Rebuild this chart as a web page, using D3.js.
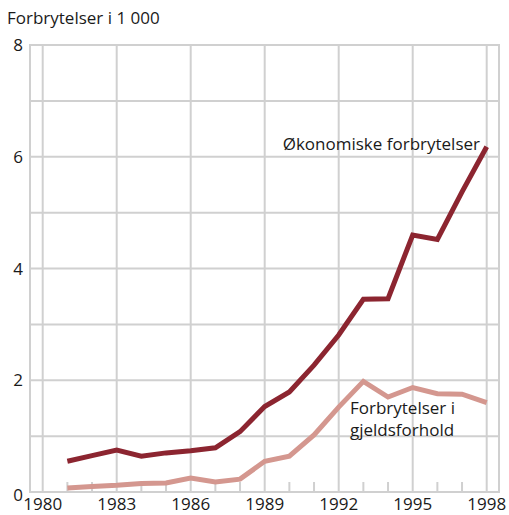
<!DOCTYPE html>
<html>
<head>
<meta charset="utf-8">
<script src="https://cdn.jsdelivr.net/npm/d3@7"></script>
<style>
  html, body { margin: 0; padding: 0; background: #fff; }
  svg { display: block; font-family: "Open Sans", "Noto Sans", sans-serif; }
</style>
</head>
<body>
<svg id="chart" width="509" height="515"></svg>
<script>
// Years covered by the series
const years = [1981, 1982, 1983, 1984, 1985, 1986, 1987, 1988, 1989,
               1990, 1991, 1992, 1993, 1994, 1995, 1996, 1997, 1998];

// Økonomiske forbrytelser (thousands)
const economic = [0.55, 0.65, 0.75, 0.64, 0.70, 0.74, 0.79, 1.08, 1.53,
                  1.79, 2.27, 2.81, 3.45, 3.46, 4.60, 4.52, 5.37, 6.18];

// Forbrytelser i gjeldsforhold (thousands)
const debt = [0.07, 0.10, 0.12, 0.15, 0.16, 0.25, 0.18, 0.23, 0.55,
              0.64, 1.02, 1.52, 1.98, 1.70, 1.87, 1.76, 1.75, 1.60];

const xTickLabels = [1980, 1983, 1986, 1989, 1992, 1995, 1998];
const yTickLabels = [0, 2, 4, 6, 8];

const svg = d3.select("#chart");
const frame = { left: 30, right: 499, top: 45, bottom: 492 };

const x = d3.scaleLinear().domain([1980, 1998]).range([42.7, 486.7]);
const y = d3.scaleLinear().domain([0, 8]).range([frame.bottom, frame.top]);

const gridColor = "#d0d0d0";
const textColor = "#1a1a1a";
const fontSize = 17;

// Horizontal gridlines at every unit
svg.append("g").selectAll("line")
  .data(d3.range(0, 9))
  .join("line")
  .attr("x1", frame.left).attr("x2", frame.right)
  .attr("y1", d => y(d)).attr("y2", d => y(d))
  .attr("stroke", gridColor).attr("stroke-width", 2);

// Vertical gridlines at labelled years
svg.append("g").selectAll("line")
  .data(xTickLabels)
  .join("line")
  .attr("x1", d => x(d)).attr("x2", d => x(d))
  .attr("y1", frame.top).attr("y2", frame.bottom)
  .attr("stroke", gridColor).attr("stroke-width", 2);

// Short minor ticks on the baseline for the other years
svg.append("g").selectAll("line")
  .data(d3.range(1980, 1999).filter(v => !xTickLabels.includes(v)))
  .join("line")
  .attr("x1", d => x(d)).attr("x2", d => x(d))
  .attr("y1", frame.bottom - 10).attr("y2", frame.bottom)
  .attr("stroke", gridColor).attr("stroke-width", 2);

// Frame
svg.append("rect")
  .attr("x", frame.left).attr("y", frame.top)
  .attr("width", frame.right - frame.left)
  .attr("height", frame.bottom - frame.top)
  .attr("fill", "none").attr("stroke", gridColor).attr("stroke-width", 2);

// Axis labels
svg.append("g").selectAll("text")
  .data(yTickLabels)
  .join("text")
  .attr("x", 23).attr("y", d => y(d) + (d === 0 ? 9 : 6))
  .attr("text-anchor", "end")
  .attr("font-size", fontSize).attr("fill", textColor)
  .text(d => d);

svg.append("g").selectAll("text")
  .data(xTickLabels)
  .join("text")
  .attr("x", d => x(d)).attr("y", 510)
  .attr("text-anchor", "middle")
  .attr("font-size", fontSize).attr("fill", textColor)
  .text(d => d);

svg.append("text")
  .attr("x", 7).attr("y", 24)
  .attr("font-size", fontSize).attr("fill", textColor)
  .text("Forbrytelser i 1 000");

// Series lines
const line = d3.line()
  .x((d, i) => x(years[i]))
  .y(d => y(d));

svg.append("path")
  .datum(debt)
  .attr("d", line)
  .attr("fill", "none")
  .attr("stroke", "#d4978f")
  .attr("stroke-width", 5)
  .attr("stroke-linejoin", "miter");

svg.append("path")
  .datum(economic)
  .attr("d", line)
  .attr("fill", "none")
  .attr("stroke", "#8c2530")
  .attr("stroke-width", 5)
  .attr("stroke-linejoin", "miter");

// Series labels
svg.append("text")
  .attr("x", 480).attr("y", 150)
  .attr("text-anchor", "end")
  .attr("font-size", fontSize).attr("fill", textColor)
  .text("Økonomiske forbrytelser");

const debtLabel = svg.append("text")
  .attr("font-size", fontSize).attr("fill", textColor);
debtLabel.append("tspan").attr("x", 350).attr("y", 414).text("Forbrytelser i");
debtLabel.append("tspan").attr("x", 350).attr("y", 436).text("gjeldsforhold");
</script>
</body>
</html>
